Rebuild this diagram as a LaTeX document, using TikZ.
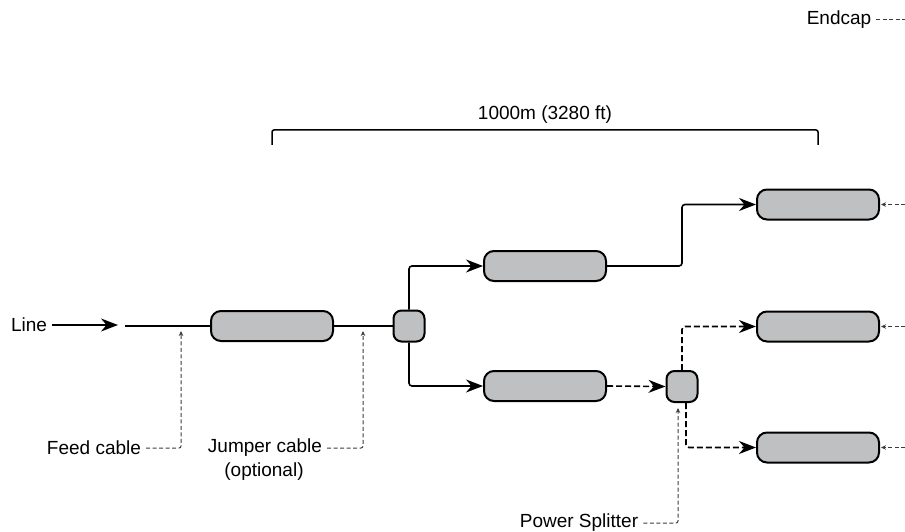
\documentclass[tikz,border=0pt]{standalone}
\usepackage{fontspec}
\setmainfont{Liberation Sans}
\usetikzlibrary{arrows.meta}
\definecolor{boxgray}{RGB}{191,192,193}
\definecolor{hintgray}{RGB}{60,60,60}
\begin{document}
\begin{tikzpicture}[x=1pt,y=-1pt,
  font=\fontsize{19}{22}\selectfont,
  unitbox/.style={draw=black,line width=2pt,fill=boxgray,rounded corners=10pt,minimum width=122pt,minimum height=30pt,inner sep=0pt},
  splitbox/.style={draw=black,line width=2pt,fill=boxgray,rounded corners=8pt,minimum width=31pt,minimum height=31pt,inner sep=0pt},
  cable/.style={line width=1.6pt,rounded corners=3pt},
  bigtip/.style={-{Stealth[length=17pt,width=13pt,inset=5.5pt]}},
  dashcable/.style={line width=1.6pt,rounded corners=3pt,dash pattern=on 6pt off 3pt},
  hint/.style={line width=1pt,draw=hintgray,dash pattern=on 4pt off 2.5pt,rounded corners=2pt,-{Stealth[length=5pt,width=4.5pt]}},
  lbl/.style={inner sep=5pt}]
\useasboundingbox (0,0) rectangle (905,532);

% boxes
\node[unitbox] (b1) at (272,326) {};
\node[splitbox] (s1) at (409,326) {};
\node[unitbox] (b2) at (545,266) {};
\node[unitbox] (b3) at (545,386) {};
\node[splitbox] (s2) at (682,386.5) {};
\node[unitbox] (b4) at (818,204.5) {};
\node[unitbox] (b5) at (818,326.5) {};
\node[unitbox] (b6) at (818,447.5) {};

% labels
\node[lbl] (line) at (29,325) {Line};
\node[lbl] (feed) at (94,448) {Feed cable};
\node[lbl] (jump) at (265,448) {Jumper cable};
\node[lbl] (opt) at (264,472) {(optional)};
\node[lbl] (ps) at (579,523) {Power Splitter};
\node[lbl] (endcap) at (839,20) {Endcap};
\node[lbl] (dist) at (545,115) {1000m (3280 ft)};

% coordinates
\coordinate (linetip) at (118,325);
\coordinate (cablestart) at (125,326);
\coordinate (feedtip) at (181,331);
\coordinate (jumptip) at (363,331);
\coordinate (bl) at (272,145);
\coordinate (br) at (818,145);
\coordinate (bt) at (545,130);
\coordinate (ecend) at (905,20);
\coordinate (r4) at (905,204.5);
\coordinate (r5) at (905,326.5);
\coordinate (r6) at (905,447.5);

% main line
\draw[cable,bigtip] (line.east) -- (linetip);
\draw[cable] (cablestart) -- (b1.west);
\draw[cable] (b1.east) -- (s1.west);
\draw[cable,bigtip] (s1.north) |- (b2.west);
\draw[cable,bigtip] (s1.south) |- (b3.west);
\draw[cable,bigtip] (b2.east) -| (s2.north |- b4.west) -- (b4.west);
\draw[dashcable,bigtip] (b3.east) -- (s2.west);
\draw[dashcable,bigtip] (s2.north) |- (b5.west);
\draw[dashcable,bigtip] ([xshift=4pt]s2.south) |- (b6.west);

% bracket
\draw[line width=1.5pt,rounded corners=2pt] (bl) |- (bt) -| (br);

% hint pointers
\draw[hint] (feed.east) -| (feedtip);
\draw[hint] (jump.east) -| (jumptip);
\draw[hint] (ps.east) -| ([xshift=-4pt,yshift=-5pt]s2.south);
\draw[hint,-] (endcap.east) -- (ecend);
\draw[hint,shorten >=1pt] (r4) -- (b4.east);
\draw[hint,shorten >=1pt] (r5) -- (b5.east);
\draw[hint,shorten >=1pt] (r6) -- (b6.east);
\end{tikzpicture}
\end{document}
